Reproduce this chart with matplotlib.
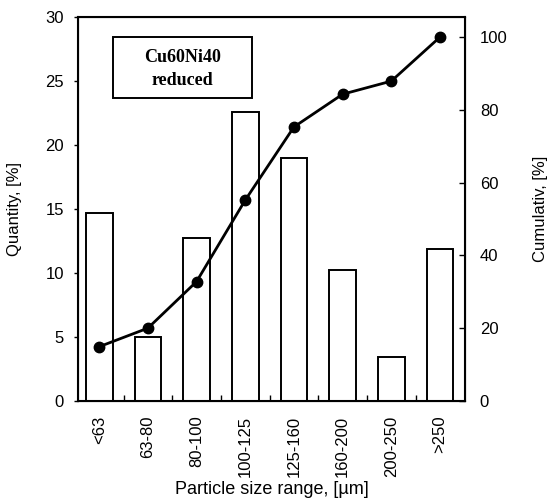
import matplotlib.pyplot as plt
import numpy as np
from matplotlib.patches import Rectangle

categories = ["<63", "63-80", "80-100", "100-125", "125-160", "160-200", "200-250", ">250"]
quantity = [14.7, 5.0, 12.75, 22.55, 19.0, 10.2, 3.45, 11.9]
cumulative = [14.9, 20.0, 32.8, 55.2, 75.3, 84.3, 87.9, 100.0]

plt.rcParams.update({"font.family": "Liberation Sans", "font.size": 12})

fig = plt.figure(figsize=(5.48, 5.03), dpi=100)
ax = fig.add_axes([0.142, 0.203, 0.707, 0.763])
x = np.arange(len(categories))

ax.bar(x, quantity, width=0.55, facecolor="white", edgecolor="black", linewidth=1.4, zorder=2)
ax.set_xlim(-0.44, 7.52)
ax.set_ylim(0, 30)
ax.set_yticks([0, 5, 10, 15, 20, 25, 30])
ax.set_xticks(x)
ax.set_xticklabels(categories, rotation=90)
ax.set_xticks(x[:-1] + 0.5, minor=True)
ax.tick_params(axis="x", which="major", length=0, pad=10.5)
ax.tick_params(axis="x", which="minor", direction="in", length=4, width=1)
ax.tick_params(axis="y", direction="out", length=3, width=1, pad=7)
ax.set_ylabel("Quantity, [%]")
ax.yaxis.set_label_coords(-0.145, 0.5)
ax.set_xlabel("Particle size range, [µm]", fontsize=13)
ax.xaxis.set_label_coords(0.5, -0.209)
for spine in ax.spines.values():
    spine.set_linewidth(1.5)

right = ax.twinx()
right.plot(x, cumulative, color="black", linewidth=2, marker="o", markersize=7.5, zorder=3)
right.set_ylim(0, 105.5)
right.set_yticks([0, 20, 40, 60, 80, 100])
right.tick_params(axis="y", direction="in", length=4, width=1, pad=10.5)
right.set_ylabel("Cumulativ, [%]")
right.yaxis.set_label_coords(1.175, 0.5)

ax.add_patch(Rectangle((0.090, 0.789), 0.359, 0.159, transform=ax.transAxes,
                       facecolor="white", edgecolor="black", linewidth=1.4, zorder=4))
ax.text(0.27, 0.895, "Cu60Ni40", transform=ax.transAxes, ha="center", va="center",
        family="Liberation Serif", fontweight="bold", fontsize=13, zorder=5)
ax.text(0.27, 0.836, "reduced", transform=ax.transAxes, ha="center", va="center",
        family="Liberation Serif", fontweight="bold", fontsize=13, zorder=5)

fig.savefig("out.png", dpi=100)
